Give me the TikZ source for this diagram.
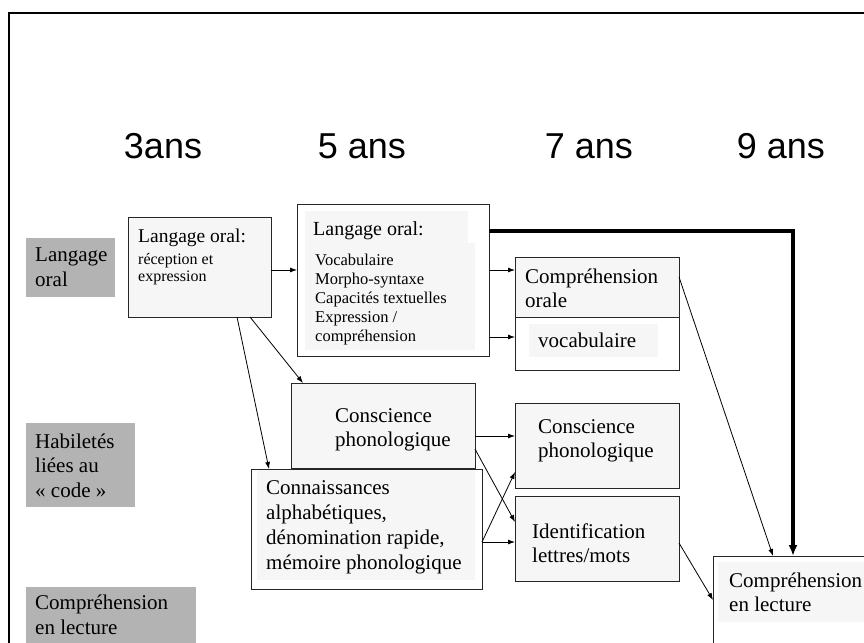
\documentclass[tikz,border=0pt]{standalone}
\usepackage{fontspec}
\setmainfont{Liberation Serif}
\newfontfamily\agefont{Liberation Sans}
\usetikzlibrary{arrows.meta}
\definecolor{boxfill}{HTML}{F6F6F6}
\definecolor{labelgray}{HTML}{B3B3B3}
\tikzset{
  box/.style={draw=black!85, line width=1pt, inner sep=0pt, outer sep=0pt, anchor=north west},
  txt/.style={anchor=base west, align=left, inner sep=0pt, font=\fontsize{21}{24.5}\selectfont},
  smalltxt/.style={anchor=base west, align=left, inner sep=0pt, font=\fontsize{16.5}{19}\selectfont},
  arr/.style={line width=0.8pt, -{Latex[length=7pt,width=5pt]}},
  heavy/.style={line width=3.5pt, -{Latex[length=11pt,width=9pt]}},
  lab/.style={fill=labelgray, inner sep=0pt, outer sep=0pt, anchor=north west},
  age/.style={font=\agefont\fontsize{36}{40}\selectfont, anchor=base, inner sep=0pt}
}
\begin{document}
\begin{tikzpicture}[x=1pt,y=-1pt]
\useasboundingbox (0,0) rectangle (864,642);
\clip (0,0) rectangle (864,642);
\fill[white] (0,0) rectangle (864,642);
% frame
\draw[line width=2pt] (9,650) -- (9,13) -- (870,13);
% ages
\node[age] (a3) at (163,158) {3ans};
\node[age] (a5) at (362,158) {5 ans};
\node[age] (a7) at (589,158) {7 ans};
\node[age] (a9) at (781,158) {9 ans};
% row labels (base = baseline of last line)
\node[lab, minimum width=89pt, minimum height=59pt] (l1) at (26,238) {};
\node[txt] (l1t) at (35,286) {Langage\\oral};
\node[lab, minimum width=109pt, minimum height=84pt] (l2) at (26,423) {};
\node[txt] (l2t) at (35,497) {Habiletés\\liées au\\« code »};
\node[lab, minimum width=170pt, minimum height=60pt] (l3) at (26,587) {};
\node[txt] (l3t) at (35,634) {Compréhension\\en lecture};
% box 1
\node[box, fill=boxfill, minimum width=143pt, minimum height=100pt] (b1) at (128,217) {};
\node[txt, font=\fontsize{19.5}{23}\selectfont] (b1t) at (138,242) {Langage oral:};
\node[smalltxt, font=\fontsize{16}{17.5}\selectfont] (b1s) at (138,281.5) {réception et\\expression};
% box 2
\node[box, fill=white, minimum width=192pt, minimum height=152pt] (b2) at (297,204) {};
\fill[boxfill] (305,211) rectangle (468,243);
\fill[boxfill] (305,243) rectangle (475,350);
\node[txt, font=\fontsize{20}{24}\selectfont] (b2t) at (313,235) {Langage oral:};
\node[smalltxt] (b2s) at (315,341) {Vocabulaire\\Morpho-syntaxe\\Capacités textuelles\\Expression /\\compréhension};
% comprehension orale
\node[box, fill=white, minimum width=164pt, minimum height=113pt] (co) at (515,257) {};
\fill[boxfill] (515.5,257.5) rectangle (678.5,317);
\fill[boxfill] (529,324) rectangle (658,357);
\draw[black!85, line width=1pt] (515,317) -- (679,317);
\node[txt] (cot) at (525,307.5) {Compréhension\\orale};
\node[txt] (cov) at (538,347) {vocabulaire};
% conscience phonologique (5 ans)
\node[box, fill=boxfill, minimum width=184pt, minimum height=85pt] (cp1) at (291,383) {};
\node[txt] (cp1t) at (335,446.5) {Conscience\\phonologique};
% connaissances
\node[box, fill=white, minimum width=231pt, minimum height=120pt] (ca) at (251,469) {};
\fill[boxfill] (257,470) rectangle (475,580);
\node[txt, font=\fontsize{21}{25}\selectfont] (cat) at (266,569) {Connaissances\\alphabétiques,\\dénomination rapide,\\mémoire phonologique};
% conscience phonologique (7 ans)
\node[box, fill=boxfill, minimum width=164pt, minimum height=85pt] (cp2) at (515,403) {};
\node[txt] (cp2t) at (538,457.5) {Conscience\\phonologique};
% identification
\node[box, fill=boxfill, minimum width=164pt, minimum height=85pt] (id) at (515,496) {};
\node[txt] (idt) at (532,562.5) {Identification\\lettres/mots};
% comprehension en lecture
\node[box, fill=white, minimum width=180pt, minimum height=100pt] (cl) at (713,556) {};
\fill[boxfill] (718,562) rectangle (870,622);
\node[txt] (clt) at (729,611.5) {Compréhension\\en lecture};
% connector levels
\coordinate (y270) at (0,270);
\coordinate (y337) at (0,337);
\coordinate (y231) at (0,231);
\coordinate (x793) at (793,0);
\coordinate (x773) at (773,0);
\coordinate (x250) at (250,0);
\coordinate (x237) at (237,0);
\coordinate (x303) at (303,0);
\coordinate (x269) at (269,0);
\coordinate (y436) at (0,436);
\coordinate (y449) at (0,449);
\coordinate (y522) at (0,522);
\coordinate (y542) at (0,542);
\coordinate (y472) at (0,472);
\coordinate (y543) at (0,543);
\coordinate (y600) at (0,600);
\coordinate (y277) at (0,277);
% connectors
\draw[arr] (b1.east |- y270) -- (b2.west |- y270);
\draw[arr] (b2.east |- y270) -- (co.west |- y270);
\draw[arr] (b2.east |- y337) -- (co.west |- y337);
\draw[heavy, line join=miter] (b2.east |- y231) -- (x793 |- y231) -- (x793 |- cl.north);
\draw[arr] (co.east |- y277) -- (x773 |- cl.north);
\draw[arr] (x250 |- b1.south) -- (x303 |- cp1.north);
\draw[arr] (x237 |- b1.south) -- (x269 |- ca.north);
\draw[arr] (cp1.east |- y436) -- (cp2.west |- y436);
\draw[arr] (cp1.east |- y449) -- (id.west |- y522);
\draw[arr] (ca.east |- y542) -- (cp2.west |- y472);
\draw[arr] (ca.east |- y542) -- (id.west |- y542);
\draw[arr] (id.east |- y543) -- (cl.west |- y600);
\end{tikzpicture}
\end{document}
